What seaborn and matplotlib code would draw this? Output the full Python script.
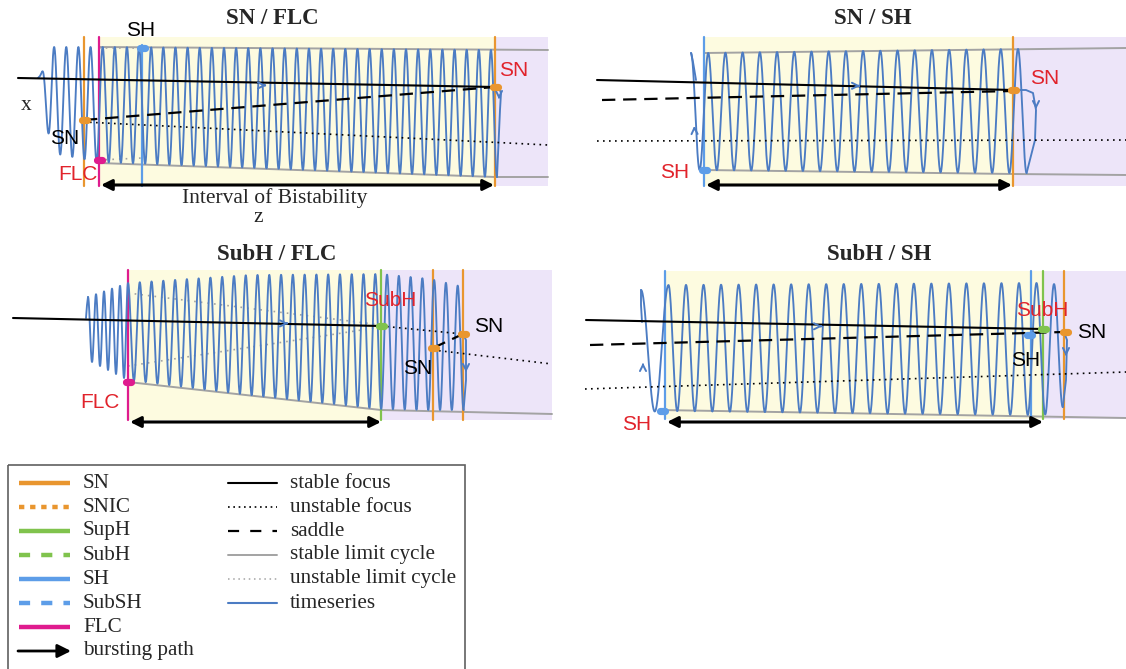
import numpy as np
import pandas as pd
import matplotlib
matplotlib.use("Agg")
import matplotlib.pyplot as plt
from matplotlib.patches import Rectangle
import seaborn as sns

sns.set_theme(style="white")
plt.rcParams["font.family"] = ["Liberation Sans", "DejaVu Sans"]
SERIF = ["Liberation Serif", "DejaVu Serif"]

W, H = 1126, 669

# ---- colours -------------------------------------------------------------
ORANGE = "#e9962f"
PINK = "#df1b8e"
GREEN = "#80c34d"
SHBLUE = "#5d9de8"
TSBLUE = "#4c7cc3"
GRAY = "#a3a3a3"
RED = "#e1232b"
YELLOW = "#fdfbe0"
PURPLE = "#ede5f9"

# ---- panel SN / FLC ------------------------------------------------------
A_band = [37, 186]
A_yellow = [99, 495]
A_purple = [495, 548]
A_sn_lines = [84, 495]
A_flc_lines = [99]
A_sh_lines = [142]
A_focus = ([18, 495], [78, 87])
A_saddle = ([84, 495], [120, 87])
A_ufocus = ([84, 548], [122, 145])
A_slc_top = ([99, 548], [47, 50])
A_slc_bot = ([99, 495, 548], [163, 177, 177])
A_ulc_top = ([99, 142], [48, 48])
A_ulc_bot = ([99, 142], [160, 158])
A_phase = ([42, 497], [0, 37.5])
A_env_x = [42, 52, 99, 495, 497]
A_env_top = [72, 47, 47, 50, 50]
A_env_bot = [100, 153, 162, 177, 177]
A_tail = ([42, 40, 38], [72, 76, 78])
A_jump = ([495, 499, 501, 500, 497], [87, 88, 93, 110, 177])

# ---- panel SN / SH -------------------------------------------------------
B_band = [37, 186]
B_yellow = [704, 1013]
B_purple = [1013, 1126]
B_sn_lines = [1013]
B_sh_lines = [704]
B_focus = ([597, 1013], [80, 90])
B_saddle = ([602, 1013], [100, 91])
B_ufocus = ([597, 1126], [141, 140])
B_slc_top = ([704, 1126], [53, 48])
B_slc_bot = ([704, 1013, 1126], [170, 174, 175])
B_phase = ([691, 1026.6], [0, 19.5])
B_env_x = [691, 704, 1013, 1027]
B_env_top = [53, 53, 49, 49]
B_env_bot = [170, 170, 173, 173]
B_tail = ([691, 693, 696], [53, 62, 80])
B_jump = ([1013, 1026, 1033, 1036, 1035, 1026.6], [90, 90, 93, 110, 140, 173])

# ---- panel SubH / FLC ----------------------------------------------------
C_band = [270, 420]
C_yellow = [128, 381]
C_purple = [381, 552]
C_sn_lines = [433, 463]
C_flc_lines = [128]
C_hopf_lines = [381]
C_focus = ([13, 381], [318, 326])
C_ufocus_a = ([381, 463], [326, 334])
C_saddle = ([433, 463], [348, 334])
C_ufocus_b = ([433, 552], [350, 364])
C_ulc_top = ([128, 381], [293, 325])
C_ulc_bot = ([128, 381], [366, 327])
C_slc_bot = ([128, 381, 552], [382, 410, 414])
C_phase = ([88, 128, 463.6], [0, 5, 33.5])
C_env_x = [88, 128, 250, 381, 430, 463.6]
C_env_top = [297, 283, 275, 274, 279, 287]
C_env_bot = [360, 380, 395, 409, 410, 410]
C_tail = ([88, 87, 86], [297, 305, 318])
C_jump = ([463, 466, 466, 463.6], [334, 340, 380, 410])

# ---- panel SubH / SH -----------------------------------------------------
D_band = [271, 419]
D_yellow = [665, 1043]
D_purple = [1043, 1126]
D_sn_lines = [1064]
D_sh_lines = [665, 1031]
D_hopf_lines = [1043]
D_focus = ([586, 1043], [320, 329])
D_saddle = ([590, 1064], [345, 332])
D_ufocus = ([585, 1126], [389, 372])
D_slc_bot = ([660, 1126], [410, 418])
D_phase = ([641, 668.5, 1062.8], [0, 1, 23.5])
D_env_x = [641, 668.5, 1031, 1044, 1062.8]
D_env_top = [290, 285, 283, 283, 285]
D_env_bot = [412, 411, 415, 415, 407]
D_tail = ([641, 641, 642], [290, 305, 322])
D_jump = ([1064, 1067, 1066, 1062.8], [332, 340, 380, 407])

# ---- legend entries ------------------------------------------------------
leg_left = ["SN", "SNIC", "SupH", "SubH", "SH", "SubSH", "FLC", "bursting path"]
leg_right = ["stable focus", "unstable focus", "saddle",
             "stable limit cycle", "unstable limit cycle", "timeseries"]

fig = plt.figure(figsize=(W / 100, H / 100), dpi=100)
ax = fig.add_axes([0, 0, 1, 1])
ax.set_xlim(0, W)
ax.set_ylim(H, 0)
ax.axis("off")


def shade(span, band, color):
    ax.add_patch(Rectangle((span[0], band[0]), span[1] - span[0],
                           band[1] - band[0], color=color, lw=0, zorder=0))


def vlines(xs, band, color, lw=1.6):
    for x in xs:
        ax.plot([x, x], band, color=color, lw=lw, zorder=2)


def branch(xy, **kw):
    ax.plot(xy[0], xy[1], **kw)


def timeseries(phase, env_x, top, bot, tail, jump):
    xs = np.linspace(phase[0][0], phase[0][-1], 2400)
    cyc = np.interp(xs, phase[0], phase[1])
    t = np.interp(xs, env_x, top)
    b = np.interp(xs, env_x, bot)
    ys = (t + b) / 2 - (b - t) / 2 * np.cos(2 * np.pi * cyc)
    df = pd.DataFrame({"z": xs, "x": ys})
    sns.lineplot(data=df, x="z", y="x", sort=False, estimator=None,
                 color=TSBLUE, lw=1.35, ax=ax, zorder=3)
    sns.lineplot(x=tail[0], y=tail[1], sort=False, estimator=None,
                 color=TSBLUE, lw=1.35, ax=ax, zorder=3)
    sns.lineplot(x=jump[0], y=jump[1], sort=False, estimator=None,
                 color=TSBLUE, lw=1.35, ax=ax, zorder=3)


def chevron(x, y, dx, dy):
    ax.annotate("", xy=(x + dx, y + dy), xytext=(x, y),
                arrowprops=dict(arrowstyle="->", color=TSBLUE, lw=1.4,
                                mutation_scale=11), zorder=6)


def dot(x, y, color):
    ax.plot([x - 2.5, x + 2.5], [y, y], color=color, lw=5.2,
            solid_capstyle="round", zorder=7)


def interval(x0, x1, y):
    ax.annotate("", xy=(x0, y), xytext=(x1, y),
                arrowprops=dict(arrowstyle="<|-|>", color="black", lw=2.2,
                                mutation_scale=16, shrinkA=0, shrinkB=0),
                zorder=6)


def label(x, y, s, color="black"):
    ax.text(x, y, s, color=color, fontsize=15, ha="center", va="center",
            zorder=8)


def title(x, y, s):
    ax.text(x, y, s, family=SERIF, fontweight="bold", fontsize=16.5,
            ha="center", va="center")


focus_kw = dict(color="black", lw=1.5, zorder=4)
saddle_kw = dict(color="black", lw=1.6, dashes=(6, 3.5), zorder=4)
ufocus_kw = dict(color="black", lw=1.2, linestyle=(0, (1, 2.6)), zorder=4)
slc_kw = dict(color=GRAY, lw=1.4, zorder=2)
ulc_kw = dict(color=GRAY, lw=1.2, linestyle=(0, (1, 3)), zorder=2)

# ---- SN / FLC ------------------------------------------------------------
shade(A_yellow, A_band, YELLOW)
shade(A_purple, A_band, PURPLE)
branch(A_slc_top, **slc_kw)
branch(A_slc_bot, **slc_kw)
branch(A_ulc_top, **ulc_kw)
branch(A_ulc_bot, **ulc_kw)
timeseries(A_phase, A_env_x, A_env_top, A_env_bot, A_tail, A_jump)
vlines(A_sn_lines, A_band, ORANGE)
vlines(A_flc_lines, A_band, PINK)
vlines(A_sh_lines, [45, A_band[1]], SHBLUE)
branch(A_focus, **focus_kw)
branch(A_saddle, **saddle_kw)
branch(A_ufocus, **ufocus_kw)
chevron(262, 85.4, 7, 0)
chevron(499, 93, 0, 9)
dot(84, 120, ORANGE)
dot(495, 87, ORANGE)
dot(99, 160, PINK)
dot(142, 48, SHBLUE)
interval(101, 494, 185)
title(272, 18, "SN / FLC")
label(141, 31, "SH")
label(514, 70, "SN", RED)
label(65, 138, "SN")
label(78, 175, "FLC", RED)
ax.text(26, 105, "x", family=SERIF, fontsize=15.5, ha="center", va="center")
ax.text(275, 198, "Interval of Bistability", family=SERIF, fontsize=15.5,
        ha="center", va="center")
ax.text(258, 217, "z", family=SERIF, fontsize=15.5, ha="center", va="center")

# ---- SN / SH -------------------------------------------------------------
shade(B_yellow, B_band, YELLOW)
shade(B_purple, B_band, PURPLE)
branch(B_slc_top, **slc_kw)
branch(B_slc_bot, **slc_kw)
timeseries(B_phase, B_env_x, B_env_top, B_env_bot, B_tail, B_jump)
vlines(B_sn_lines, B_band, ORANGE)
vlines(B_sh_lines, B_band, SHBLUE)
branch(B_focus, **focus_kw)
branch(B_saddle, **saddle_kw)
branch(B_ufocus, **ufocus_kw)
chevron(856, 85.8, 7, 0)
chevron(1036, 103, 0, 9)
chevron(694.5, 132, -0.3, -9)
dot(704, 170, SHBLUE)
dot(1013, 90, ORANGE)
interval(706, 1012, 185)
title(873, 18, "SN / SH")
label(1045, 78, "SN", RED)
label(675, 173, "SH", RED)

# ---- SubH / FLC ----------------------------------------------------------
shade(C_yellow, C_band, YELLOW)
shade(C_purple, C_band, PURPLE)
branch(C_slc_bot, **slc_kw)
branch(C_ulc_top, **ulc_kw)
branch(C_ulc_bot, **ulc_kw)
timeseries(C_phase, C_env_x, C_env_top, C_env_bot, C_tail, C_jump)
vlines(C_sn_lines, C_band, ORANGE)
vlines(C_flc_lines, C_band, PINK)
vlines(C_hopf_lines, C_band, GREEN)
branch(C_focus, **focus_kw)
branch(C_ufocus_a, **ufocus_kw)
branch(C_saddle, **saddle_kw)
branch(C_ufocus_b, **ufocus_kw)
chevron(284, 323.4, 7, 0)
chevron(466, 366, 0, 9)
dot(128, 382, PINK)
dot(381, 326, GREEN)
dot(463, 334, ORANGE)
dot(433, 348, ORANGE)
interval(130, 381, 422)
title(277, 255, "SubH / FLC")
label(390, 301, "SubH", RED)
label(489, 327, "SN")
label(418, 368, "SN")
label(100, 403, "FLC", RED)

# ---- SubH / SH -----------------------------------------------------------
shade(D_yellow, D_band, YELLOW)
shade(D_purple, D_band, PURPLE)
branch(D_slc_bot, **slc_kw)
timeseries(D_phase, D_env_x, D_env_top, D_env_bot, D_tail, D_jump)
vlines(D_sn_lines, D_band, ORANGE)
vlines(D_sh_lines, D_band, SHBLUE)
vlines(D_hopf_lines, D_band, GREEN)
branch(D_focus, **focus_kw)
branch(D_saddle, **saddle_kw)
branch(D_ufocus, **ufocus_kw)
chevron(818, 326.3, 7, 0)
chevron(1066, 350, 0, 9)
chevron(643, 369, 0, -9)
dot(662, 411, SHBLUE)
dot(1029, 335, SHBLUE)
dot(1043, 329, GREEN)
dot(1065, 332, ORANGE)
interval(667, 1043, 422)
title(879, 255, "SubH / SH")
label(1042, 310, "SubH", RED)
label(1092, 333, "SN")
label(1026, 360, "SH")
label(637, 425, "SH", RED)

# ---- legend --------------------------------------------------------------
ax.add_patch(Rectangle((8, 465), 457, 230, fill=False, edgecolor="#606060",
                       lw=1.2, zorder=5))
rows = [483, 507, 531, 555, 579, 603, 627, 651]
left_styles = [
    dict(color=ORANGE, lw=3.2),
    dict(color=ORANGE, lw=3.2, linestyle=(0, (1.2, 1.3))),
    dict(color=GREEN, lw=3.2),
    dict(color=GREEN, lw=3.2, linestyle=(0, (2.5, 2.5))),
    dict(color=SHBLUE, lw=3.2),
    dict(color=SHBLUE, lw=3.2, linestyle=(0, (2.5, 2.5))),
    dict(color=PINK, lw=3.2),
]
for name, y, st in zip(leg_left[:-1], rows, left_styles):
    ax.plot([19, 70], [y, y], solid_capstyle="butt", **st)
ax.annotate("", xy=(71, rows[7]), xytext=(18, rows[7]),
            arrowprops=dict(arrowstyle="-|>", color="black", lw=2.0,
                            mutation_scale=20, shrinkA=0, shrinkB=0))
right_styles = [
    dict(color="black", lw=1.5),
    dict(color="black", lw=1.2, linestyle=(0, (1, 2.2))),
    dict(color="black", lw=1.6, linestyle=(0, (5, 5))),
    dict(color=GRAY, lw=1.4),
    dict(color=GRAY, lw=1.1, linestyle=(0, (1, 2.4))),
    dict(color=TSBLUE, lw=1.5),
]
for name, y, st in zip(leg_right, rows, right_styles):
    ax.plot([228, 277], [y, y], **st)
for name, y in zip(leg_left, rows):
    ax.text(83, y, name, family=SERIF, fontsize=15.2, va="center", ha="left")
for name, y in zip(leg_right, rows):
    ax.text(290, y, name, family=SERIF, fontsize=15.2, va="center", ha="left")

fig.savefig("out.png", dpi=100)
